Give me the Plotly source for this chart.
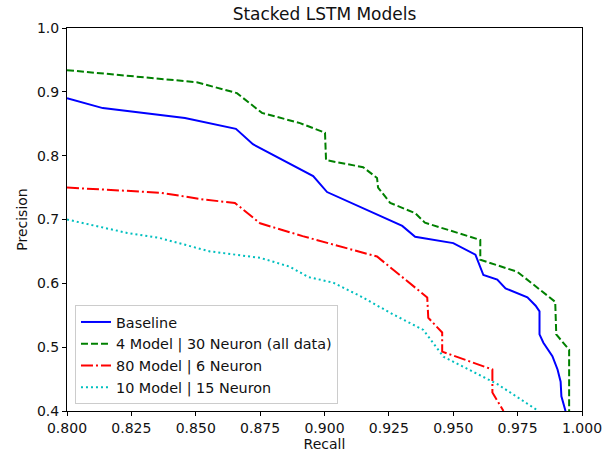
import plotly.graph_objects as go

baseline_recall = [0.800, 0.8139, 0.8458, 0.8656, 0.8722, 0.8788, 0.8956, 0.901, 0.9302, 0.9352, 0.950, 0.9586, 0.9605, 0.9617, 0.9671, 0.9703, 0.9788, 0.982, 0.9835, 0.9835, 0.985, 0.9885, 0.9905, 0.9917, 0.992, 0.9936]
baseline_precision = [0.890, 0.8745, 0.859, 0.842, 0.818, 0.804, 0.768, 0.743, 0.690, 0.673, 0.663, 0.645, 0.626, 0.613, 0.606, 0.592, 0.578, 0.565, 0.556, 0.520, 0.507, 0.486, 0.465, 0.446, 0.423, 0.400]

m4_recall = [0.800, 0.8504, 0.866, 0.8757, 0.8905, 0.9002, 0.9006, 0.915, 0.9204, 0.9208, 0.9255, 0.9352, 0.939, 0.9605, 0.9605, 0.9749, 0.9896, 0.990, 0.995, 0.995]
m4_precision = [0.934, 0.915, 0.898, 0.867, 0.851, 0.836, 0.793, 0.782, 0.765, 0.750, 0.726, 0.710, 0.695, 0.668, 0.637, 0.618, 0.571, 0.520, 0.496, 0.400]

m80_recall = [0.800, 0.8361, 0.8536, 0.8652, 0.875, 0.8915, 0.9204, 0.9399, 0.9403, 0.9457, 0.9457, 0.9652, 0.9652, 0.9695]
m80_precision = [0.750, 0.742, 0.731, 0.726, 0.694, 0.674, 0.642, 0.578, 0.546, 0.523, 0.493, 0.465, 0.429, 0.400]

m10_recall = [0.800, 0.8233, 0.836, 0.8555, 0.875, 0.8866, 0.8936, 0.9034, 0.9139, 0.9268, 0.9384, 0.9462, 0.9672, 0.9831]
m10_precision = [0.700, 0.679, 0.671, 0.650, 0.640, 0.626, 0.610, 0.601, 0.580, 0.551, 0.527, 0.485, 0.442, 0.400]

series_names = ["Baseline", "4 Model | 30 Neuron (all data)", "80 Model | 6 Neuron", "10 Model | 15 Neuron"]
x_ticks = [0.800, 0.825, 0.850, 0.875, 0.900, 0.925, 0.950, 0.975, 1.000]
y_ticks = [0.4, 0.5, 0.6, 0.7, 0.8, 0.9, 1.0]

fig = go.Figure()
styles = [("#0000ff", "solid"), ("#008000", "7px,3px"), ("#ff0000", "12px,3px,2px,3px"), ("#00bfbf", "2px,3px")]
data = [(baseline_recall, baseline_precision), (m4_recall, m4_precision), (m80_recall, m80_precision), (m10_recall, m10_precision)]
for (xs, ys), name, (c, d) in zip(data, series_names, styles):
    fig.add_trace(go.Scatter(x=xs, y=ys, mode="lines", name=name,
                             line=dict(color=c, dash=d, width=2)))

font = "DejaVu Sans"
fig.update_layout(
    width=611, height=458,
    margin=dict(l=67, r=29, t=28, b=47),
    plot_bgcolor="white", paper_bgcolor="white",
    font=dict(family=font, size=14, color="#111111"),
    title=dict(text="Stacked LSTM Models", x=(67 + 582) / 2 / 611, xanchor="center",
               y=1 - 14 / 458, yanchor="middle", font=dict(size=17)),
    legend=dict(x=0.0155, y=0.018, xanchor="left", yanchor="bottom",
                bordercolor="#cccccc", borderwidth=1, bgcolor="rgba(255,255,255,0.8)",
                font=dict(size=14.4), tracegroupgap=0, itemwidth=30),
    showlegend=True,
)
fig.update_xaxes(range=[0.8, 1.0], tickvals=x_ticks, tickformat=".3f", automargin=False,
                 showline=True, linecolor="black", linewidth=1, mirror=True,
                 ticks="outside", ticklen=4, tickcolor="black", showgrid=False, zeroline=False,
                 tickfont=dict(size=14),
                 title=dict(text="Recall", standoff=4, font=dict(size=14)))
fig.update_yaxes(range=[0.4, 1.0], tickvals=y_ticks, tickformat=".1f", automargin=False,
                 showline=True, linecolor="black", linewidth=1, mirror=True,
                 ticks="outside", ticklen=4, tickcolor="black", showgrid=False, zeroline=False,
                 tickfont=dict(size=14),
                 title=dict(text="Precision", standoff=6, font=dict(size=14)))

fig.write_html("out.html")
